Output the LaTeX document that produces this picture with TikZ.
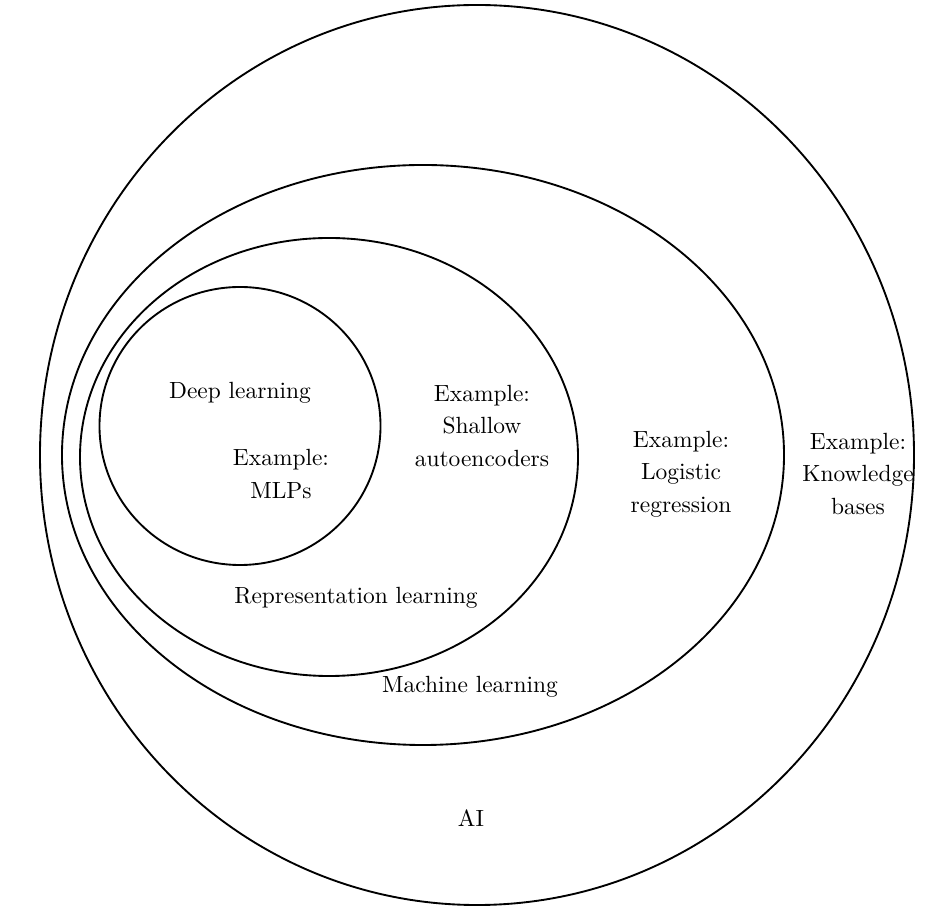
\documentclass[tikz,border=0pt]{standalone}
\usepackage{tikz}
\usetikzlibrary{shapes.geometric}

\begin{document}
\begin{tikzpicture}[x=0.15mm,y=-0.15mm]
	\tikzstyle{zone}=[ellipse,draw=black,thick,inner sep=0pt]
	\tikzstyle{legende}=[text=black,align=center,font=\normalsize]

	\useasboundingbox (0,0) rectangle (944,920);

	\node[zone,minimum width=131.1mm,minimum height=135mm] (ai) at (477,455) {};
	\node[zone,minimum width=108.3mm,minimum height=87mm] (ml) at (423,455) {};
	\node[zone,minimum width=74.7mm,minimum height=65.7mm] (rl) at (329,457) {};
	\node[zone,minimum width=42.15mm,minimum height=41.7mm] (dl) at (240,426) {};

	\node[legende] (tdl) at (240,393) {Deep learning};
	\node[legende] (exdl) at (281,474) {Example:\\[1.8pt]MLPs};
	\node[legende] (exrl) at (482,426) {Example:\\[1.8pt]Shallow\\[1.8pt]autoencoders};
	\node[legende] (trl) at (356,598) {Representation learning};
	\node[legende] (exml) at (681,474) {Example:\\[1.8pt]Logistic\\[1.8pt]regression};
	\node[legende] (tml) at (470,687) {Machine learning};
	\node[legende] (exai) at (858,474) {Example:\\[1.8pt]Knowledge\\[1.8pt]bases};
	\node[legende] (tai) at (471,818) {AI};
\end{tikzpicture}
\end{document}
